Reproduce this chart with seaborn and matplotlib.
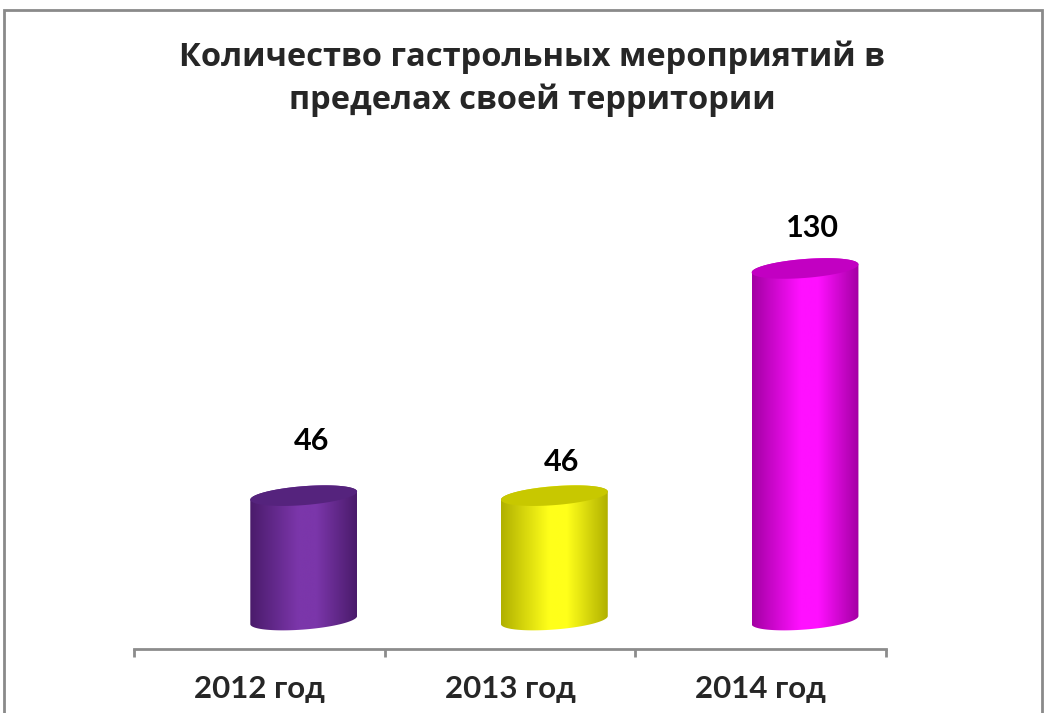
import numpy as np
import pandas as pd
import matplotlib
matplotlib.use('Agg')
import matplotlib.pyplot as plt
import seaborn as sns
from matplotlib.colors import LinearSegmentedColormap
from matplotlib.patches import PathPatch, Polygon, Rectangle
from matplotlib.path import Path

# data
years = ['2012 год', '2013 год', '2014 год']
events = [46, 46, 130]

# styling
mid_colors = ['#7B36AA', '#FFFF1A', '#FF10FF']
side_colors = ['#4A1B6B', '#B0B000', '#A300A3']
cap_colors = ['#55237D', '#C8C800', '#C200C2']
label_offsets = [55, 34, 40]   # pixels above the top of each cylinder
title = 'Количество гастрольных мероприятий в\nпределах своей территории'

sns.set_theme(style='white')
plt.rcParams['font.family'] = ['Lato', 'DejaVu Sans']

W, H = 1047, 713
fig = plt.figure(figsize=(W / 100, H / 100), dpi=100)
fig.patch.set_facecolor('white')
ax = fig.add_axes([134 / W, (H - 649) / H, (886 - 134) / W, (649 - 150) / H])

df = pd.DataFrame({'year': years, 'events': events})
sns.barplot(data=df, x='year', y='events', hue='year', palette=mid_colors,
            width=0.426, legend=False, ax=ax)

# ellipse shape of the cylinder caps (data units)
b = 3.5    # vertical semi-axis
s = 1.5    # tilt: left side lower
t_bot = np.linspace(np.pi, 2 * np.pi, 80)
t_top = np.linspace(0, np.pi, 80)
t_all = np.linspace(0, 2 * np.pi, 160)

for i, bar in enumerate(ax.patches):
    x0, w, h = bar.get_x(), bar.get_width(), bar.get_height()
    cx, a = x0 + w / 2, w / 2
    bar.set_visible(False)

    # body outline: lower half of bottom ellipse + upper half of top ellipse
    bx = cx + a * np.cos(t_bot)
    by = b * np.sin(t_bot) + s * np.cos(t_bot)
    tx = cx + a * np.cos(t_top)
    ty = h + b * np.sin(t_top) + s * np.cos(t_top)
    verts = np.column_stack([np.r_[bx, tx], np.r_[by, ty]])
    body = PathPatch(Path(np.vstack([verts, verts[:1]]), closed=True),
                     facecolor='none', edgecolor='none', zorder=3)
    ax.add_patch(body)

    cmap = LinearSegmentedColormap.from_list(
        f'cyl{i}', [(0, side_colors[i]), (0.45, mid_colors[i]),
                    (0.62, mid_colors[i]), (1, side_colors[i])])
    grad = np.linspace(0, 1, 256).reshape(1, -1)
    img = ax.imshow(grad, cmap=cmap, aspect='auto', interpolation='bilinear',
                    extent=[x0, x0 + w, -b - s - 1, h + b + s + 1], zorder=3)
    img.set_clip_path(body)

    # top cap
    ex = cx + a * np.cos(t_all)
    ey = h + b * np.sin(t_all) + s * np.cos(t_all)
    ax.add_patch(Polygon(np.column_stack([ex, ey]), closed=True,
                         facecolor=cap_colors[i], edgecolor='none', zorder=4))

    ax.annotate(str(events[i]), xy=(cx + 0.03, h), xytext=(0, label_offsets[i]),
                textcoords='offset pixels', ha='center', va='center',
                fontsize=22, fontweight='bold', color='black')

ax.set_xlim(-0.677, 2.323)
ax.set_ylim(-10.7, 173.8)
ax.set_xlabel('')
ax.set_ylabel('')
ax.set_yticks([])

# category boundaries as major ticks, labels on minor ticks at centres
ax.set_xticks([-0.677, 0.323, 1.323, 2.323])
ax.set_xticklabels([])
ax.set_xticks([-0.177, 0.823, 1.823], minor=True)
ax.set_xticklabels(years, minor=True, fontsize=22.5, fontweight='bold')
ax.tick_params(axis='x', which='major', direction='out', length=6, width=2,
               color='#8C8C8C', bottom=True)
ax.tick_params(axis='x', which='minor', length=0, pad=19, bottom=True)

for side in ['left', 'top', 'right']:
    ax.spines[side].set_visible(False)
ax.spines['bottom'].set_color('#8C8C8C')
ax.spines['bottom'].set_linewidth(2)
ax.set_facecolor('white')

fig.text(532 / W, 1 - 79 / H, title, ha='center', va='center',
         fontsize=23.5, fontweight='bold', linespacing=1.38,
         family=['Open Sans', 'DejaVu Sans'])

# outer chart border
fig.add_artist(Rectangle((4 / W, -0.05), (1042 - 4) / W, (H - 10) / H + 0.05,
                         transform=fig.transFigure, fill=False,
                         edgecolor='#8A8A8A', linewidth=2))

fig.savefig('out.png', dpi=100)
